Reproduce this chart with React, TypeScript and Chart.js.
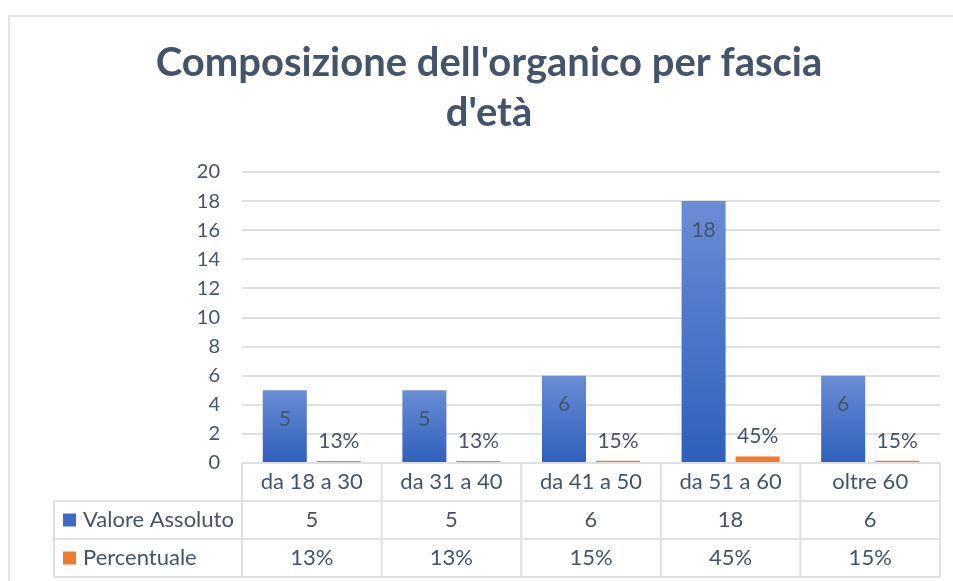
import React, { useEffect, useRef } from "react";
import { Chart, registerables } from "chart.js";

Chart.register(...registerables);

const titleLines = ["Composizione dell'organico per fascia", "d'età"];
const categories = ["da 18 a 30", "da 31 a 40", "da 41 a 50", "da 51 a 60", "oltre 60"];
const seriesNames = ["Valore Assoluto", "Percentuale"];
const valoreAssoluto = [5, 5, 6, 18, 6];
const percentuale = [0.13, 0.13, 0.15, 0.45, 0.15];
const yMin = 0;
const yMax = 20;
const yStep = 2;

const FONT = "Lato";
const TEXT = "#44546A";
const GRID = "#DDE0E5";

const fmt = (ds: number, v: number) => (ds === 1 ? Math.round(v * 100) + "%" : String(v));

function barGradient(ctx: any, top: string, bottom: string) {
  const chart = ctx.chart;
  const y = chart.scales && chart.scales.y;
  if (!y || ctx.type !== "data") return bottom;
  const v = ctx.raw as number;
  const yTop = y.getPixelForValue(v);
  const yBase = y.getPixelForValue(0);
  if (!isFinite(yTop) || !isFinite(yBase) || Math.abs(yBase - yTop) < 1) return bottom;
  const g = chart.ctx.createLinearGradient(0, yTop, 0, yBase);
  g.addColorStop(0, top);
  g.addColorStop(1, bottom);
  return g;
}

const frame = {
  id: "frame",
  beforeDraw(chart: any) {
    const c = chart.ctx;
    c.save();
    c.fillStyle = "#ffffff";
    c.fillRect(0, 0, chart.width, chart.height);
    c.strokeStyle = "#E3E3E6";
    c.lineWidth = 2;
    c.beginPath();
    c.moveTo(9, chart.height);
    c.lineTo(9, 16);
    c.lineTo(chart.width, 16);
    c.stroke();
    c.restore();
  },
};

const labels = {
  id: "barLabels",
  afterDatasetsDraw(chart: any) {
    const c = chart.ctx;
    c.save();
    c.font = `21px ${FONT}`;
    c.fillStyle = TEXT;
    c.textAlign = "center";
    c.textBaseline = "middle";
    chart.data.datasets.forEach((ds: any, di: number) => {
      const meta = chart.getDatasetMeta(di);
      meta.data.forEach((el: any, i: number) => {
        const v = ds.data[i];
        const t = fmt(di, v);
        if (di === 0) c.fillText(t, el.x, el.y + 29);
        else c.fillText(t, el.x, el.y - 20);
      });
    });
    c.restore();
  },
};

const dataTable = {
  id: "dataTable",
  afterDraw(chart: any) {
    const c = chart.ctx;
    const xs = chart.scales.x;
    const area = chart.chartArea;
    const n = categories.length;
    const colW = (area.right - area.left) / n;
    const rowH = 38;
    const top = area.bottom;
    const legendLeft = 54;
    c.save();
    c.strokeStyle = GRID;
    c.lineWidth = 2;
    c.beginPath();
    c.moveTo(area.left, top);
    c.lineTo(area.right, top);
    for (let r = 1; r <= 3; r++) {
      c.moveTo(legendLeft, top + r * rowH);
      c.lineTo(area.right, top + r * rowH);
    }
    for (let i = 0; i <= n; i++) {
      const cx = i < n ? xs.getPixelForValue(i) - colW / 2 : xs.getPixelForValue(n - 1) + colW / 2;
      c.moveTo(cx, top);
      c.lineTo(cx, top + 3 * rowH);
    }
    c.moveTo(legendLeft, top + rowH);
    c.lineTo(legendLeft, top + 3 * rowH);
    c.stroke();

    c.font = `22px ${FONT}`;
    c.fillStyle = TEXT;
    c.textBaseline = "middle";
    c.textAlign = "center";
    categories.forEach((cat, i) => {
      const cx = xs.getPixelForValue(i);
      c.fillText(cat, cx, top + rowH / 2);
    });
    chart.data.datasets.forEach((ds: any, di: number) => {
      const cy = top + rowH * (di + 1) + rowH / 2;
      c.textAlign = "center";
      c.fillStyle = TEXT;
      ds.data.forEach((v: number, i: number) => {
        c.fillText(fmt(di, v), xs.getPixelForValue(i), cy);
      });
      c.fillStyle = di === 0 ? "#3F6BC6" : "#F07A2E";
      c.fillRect(63, cy - 6.5, 13, 13);
      c.fillStyle = TEXT;
      c.textAlign = "left";
      c.fillText(ds.label, 83, cy);
    });
    c.restore();
  },
};

export default function App() {
  const ref = useRef<HTMLCanvasElement | null>(null);
  useEffect(() => {
    if (!ref.current) return;
    const chart = new Chart(ref.current, {
      type: "bar",
      data: {
        labels: categories,
        datasets: [
          {
            label: seriesNames[0],
            data: valoreAssoluto,
            backgroundColor: (ctx: any) => barGradient(ctx, "#6A8DD5", "#2F5FBC"),
            categoryPercentage: 0.774,
            barPercentage: 0.815,
          },
          {
            label: seriesNames[1],
            data: percentuale,
            backgroundColor: "#F47B2B",
            categoryPercentage: 0.774,
            barPercentage: 0.815,
          },
        ],
      },
      options: {
        animation: false,
        responsive: false,
        maintainAspectRatio: false,
        layout: { padding: { left: 38, right: 13, top: 0, bottom: 118 } },
        plugins: {
          legend: { display: false },
          tooltip: { enabled: false },
          title: {
            display: true,
            text: titleLines,
            color: TEXT,
            font: { family: FONT, size: 40, weight: "bold", lineHeight: "50px" as any },
            padding: { top: 38, bottom: 34 },
          },
        },
        scales: {
          x: {
            display: false,
          },
          y: {
            min: yMin,
            max: yMax,
            ticks: {
              stepSize: yStep,
              color: TEXT,
              font: { family: FONT, size: 20 },
              padding: 22,
            },
            grid: { color: GRID, lineWidth: 2, drawTicks: false },
            border: { display: false },
            afterFit: (scale: any) => {
              scale.width = 204;
            },
          },
        },
      },
      plugins: [frame, labels, dataTable],
    });
    return () => chart.destroy();
  }, []);
  return (
    <div style={{ position: "fixed", left: 0, top: 0, width: 953, height: 581, background: "#fff" }}>
      <canvas ref={ref} width={953} height={581} style={{ width: 953, height: 581, display: "block" }} />
    </div>
  );
}
